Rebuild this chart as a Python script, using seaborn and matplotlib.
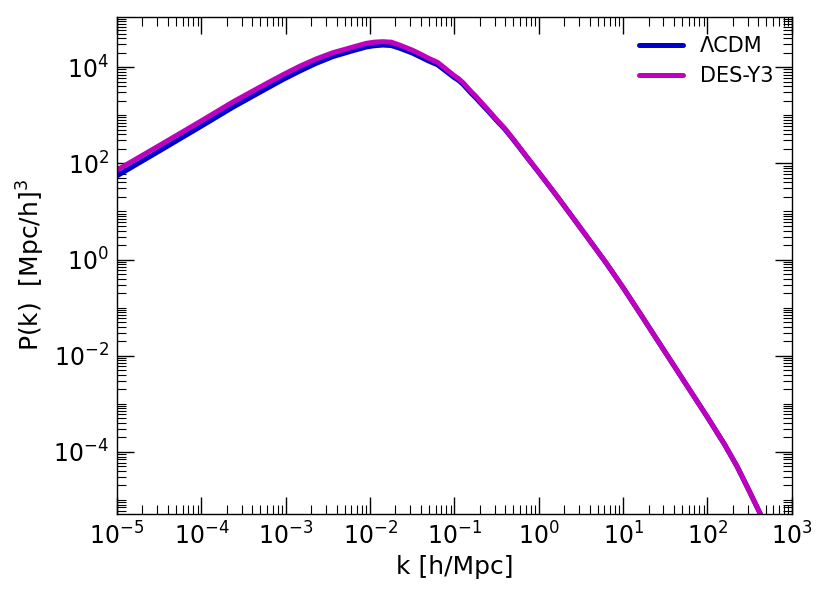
import numpy as np
import pandas as pd
import seaborn as sns
import matplotlib
matplotlib.use("Agg")
import matplotlib.pyplot as plt
from matplotlib.ticker import LogLocator, NullFormatter

sns.set_style("ticks")
plt.rcParams['font.family'] = ['DejaVu Sans']
plt.rcParams['text.color'] = 'black'
plt.rcParams['axes.labelcolor'] = 'black'
plt.rcParams['xtick.color'] = 'black'
plt.rcParams['ytick.color'] = 'black'
plt.rcParams['axes.edgecolor'] = 'black'

# wavenumbers [h/Mpc]
k = [1e-5, 3.16e-5, 9.59e-5, 2.38e-4, 5.92e-4, 9.33e-4, 1.47e-3, 2.29e-3,
     3.63e-3, 6.31e-3, 9.02e-3, 0.0112, 0.0141, 0.0178, 0.0224, 0.0316,
     0.0398, 0.0501, 0.0631, 0.0794, 0.1, 0.112, 0.126, 0.158, 0.178, 0.2,
     0.251, 0.316, 0.398, 0.501, 0.631, 0.794, 1.0, 1.585, 2.512, 3.98, 6.31,
     10, 15.85, 25.1, 39.8, 63.1, 100, 158.5, 224, 316, 447, 631, 1000]

# P(k) [(Mpc/h)^3]
pk_lcdm = [55, 180, 569, 1480, 3590, 5560, 8320, 1.2e4,
           1.66e4, 2.21e4, 2.63e4, 2.79e4, 2.88e4, 2.82e4, 2.48e4, 1.97e4,
           1.62e4, 1.33e4, 1.12e4, 8220, 6030, 5310, 4420, 2860, 2330, 1860,
           1220, 776, 507, 307, 182, 108, 64.6, 22.6, 7.59, 2.54, 0.841,
           0.260, 0.0759, 0.0219, 6.31e-3, 1.82e-3, 5.25e-4, 1.45e-4, 5.0e-5, 1.48e-5, 4.2e-6, 1.15e-6, 2.0e-7]
pk_des = [72.4, 234, 733, 1905, 4570, 7000, 1.047e4, 1.48e4,
          2.0e4, 2.63e4, 3.13e4, 3.31e4, 3.39e4, 3.31e4, 2.88e4, 2.26e4,
          1.86e4, 1.51e4, 1.26e4, 9120, 6600, 5750, 4790, 3090, 2510, 2000,
          1290, 813, 525, 316, 186, 110, 65.3, 22.6, 7.59, 2.54, 0.841,
          0.260, 0.0759, 0.0219, 6.31e-3, 1.82e-3, 5.25e-4, 1.45e-4, 5.0e-5, 1.48e-5, 4.2e-6, 1.15e-6, 2.0e-7]

labels = ["\u039bCDM", "DES-Y3"]
colors = ["mediumblue", "m"]

df = pd.DataFrame({
    "k": k + k,
    "P": pk_lcdm + pk_des,
    "model": [labels[0]] * len(k) + [labels[1]] * len(k),
})

fig = plt.figure(figsize=(8.3, 5.93), dpi=100)
ax = fig.add_axes([0.141, 0.1332, 0.813, 0.838])

sns.lineplot(data=df, x="k", y="P", hue="model", palette=colors,
             linewidth=3.6, estimator=None, sort=False, ax=ax)

ax.set_xscale("log")
ax.set_yscale("log")
ax.set_xlim(1e-5, 1e3)
ax.set_ylim(5.1e-6, 1.1e5)

ax.set_yticks([1e-4, 1e-2, 1e0, 1e2, 1e4])
ax.yaxis.set_minor_locator(LogLocator(base=10, subs=np.arange(1, 10), numticks=100))
ax.yaxis.set_minor_formatter(NullFormatter())
ax.xaxis.set_major_locator(LogLocator(base=10, numticks=100))
ax.xaxis.set_minor_locator(LogLocator(base=10, subs=np.arange(2, 10), numticks=100))
ax.xaxis.set_minor_formatter(NullFormatter())

ax.tick_params(which="both", direction="in", top=True, right=True)
ax.tick_params(which="major", length=12, width=1, labelsize=17, pad=6)
ax.tick_params(which="minor", length=6.5, width=0.8)
for s in ax.spines.values():
    s.set_linewidth(1.0)

ax.set_xlabel("k [h/Mpc]", fontsize=18)
ax.set_ylabel(r"P(k)  [Mpc/h]$^3$", fontsize=18)

leg = ax.legend(loc="upper right", frameon=False, fontsize=15, handlelength=2.1)
for line in leg.get_lines():
    line.set_linewidth(3.6)

fig.savefig("out.png", dpi=100)
